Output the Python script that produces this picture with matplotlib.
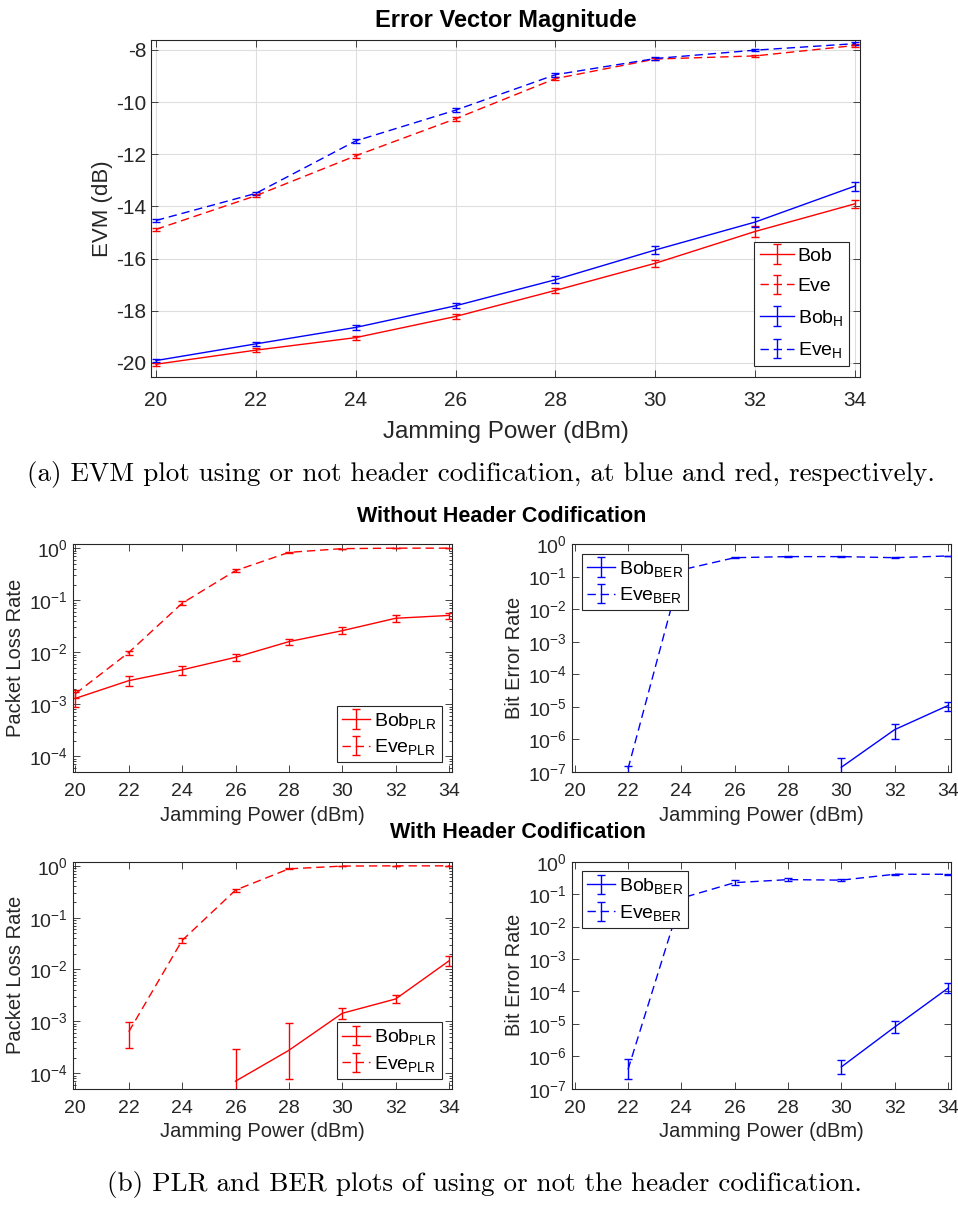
import numpy as np
import matplotlib
matplotlib.use("Agg")
import matplotlib.pyplot as plt

plt.rcParams['font.family'] = ['Liberation Sans', 'DejaVu Sans']
plt.rcParams['mathtext.default'] = 'regular'
plt.rcParams['axes.unicode_minus'] = False

nan = np.nan
x = [20, 22, 24, 26, 28, 30, 32, 34]

# ---- EVM (dB) ----
evm_bob = [-20.05, -19.51, -19.03, -18.22, -17.22, -16.18, -14.96, -13.90]
evm_bob_err = [0.06, 0.07, 0.08, 0.10, 0.11, 0.13, 0.20, 0.16]
evm_eve = [-14.88, -13.59, -12.06, -10.64, -9.10, -8.35, -8.23, -7.83]
evm_eve_err = [0.06, 0.06, 0.07, 0.08, 0.07, 0.04, 0.04, 0.04]
evm_bobh = [-19.91, -19.27, -18.64, -17.81, -16.81, -15.67, -14.60, -13.22]
evm_bobh_err = [0.06, 0.07, 0.08, 0.10, 0.13, 0.15, 0.19, 0.17]
evm_eveh = [-14.54, -13.50, -11.49, -10.31, -8.95, -8.33, -8.01, -7.76]
evm_eveh_err = [0.06, 0.06, 0.07, 0.08, 0.08, 0.04, 0.04, 0.05]

# ---- PLR without header ----
plr_bob = [1.3e-3, 2.85e-3, 4.6e-3, 8.0e-3, 0.016, 0.026, 0.045, 0.051]
plr_bob_err = [0.4e-3, 0.6e-3, 0.9e-3, 1.2e-3, 2.3e-3, 4e-3, 6e-3, 7e-3]
plr_eve = [1.6e-3, 9.9e-3, 0.0875, 0.37, 0.83, 0.98, 1.0, 1.0]
plr_eve_err = [0.3e-3, 0.9e-3, 8e-3, 0.02, 0.02, 0.005, 0.003, 0.003]

# ---- BER without header ----
ber_bob = [nan, nan, nan, nan, nan, 1.4e-7, 2.0e-6, 1.1e-5]
ber_bob_err = [nan, nan, nan, nan, nan, 1.3e-7, 1.0e-6, 0.35e-5]
ber_eve = [nan, 1.25e-7, 0.16, 0.38, 0.41, 0.41, 0.38, 0.43]
ber_eve_err = [nan, 0.3e-7, 0.06, 0.01, 0.01, 0.01, 0.01, 0.01]

# ---- PLR with header ----
plrh_bob = [nan, nan, nan, 7.0e-5, 2.76e-4, 1.43e-3, 2.7e-3, 0.0147]
plrh_bob_lo = [nan, nan, nan, 6.99e-5, 1.98e-4, 0.33e-3, 0.46e-3, 0.0029]
plrh_bob_hi = [nan, nan, nan, 2.2e-4, 6.5e-4, 0.35e-3, 0.5e-3, 0.0033]
plrh_eve = [nan, 6.3e-4, 0.0364, 0.34, 0.875, 0.99, 1.0, 1.0]
plrh_eve_err = [nan, 3.3e-4, 0.004, 0.025, 0.02, 0.005, 0.003, 0.003]

# ---- BER with header ----
berh_bob = [nan, nan, nan, nan, nan, 4.7e-7, 8.0e-6, 1.26e-4]
berh_bob_lo = [nan, nan, nan, nan, nan, 1.9e-7, 2.7e-6, 3.7e-5]
berh_bob_hi = [nan, nan, nan, nan, nan, 2.9e-7, 4.0e-6, 5.4e-5]
berh_eve = [nan, 3.9e-7, 0.075, 0.226, 0.28, 0.27, 0.41, 0.41]
berh_eve_lo = [nan, 1.9e-7, 0.041, 0.04, 0.03, 0.02, 0.01, 0.01]
berh_eve_hi = [nan, 4.1e-7, 0.051, 0.05, 0.03, 0.02, 0.01, 0.01]

xticks = [20, 22, 24, 26, 28, 30, 32, 34]
evm_yticks = [-20, -18, -16, -14, -12, -10, -8]

W, H = 958, 1207
fig = plt.figure(figsize=(W / 100, H / 100), dpi=100)

def pos(l, r, t, b):
    return [l / W, 1 - b / H, (r - l) / W, (b - t) / H]

AX_COL = '0.15'
DASH = (6, 3.5)

def style(ax, fs):
    for s in ax.spines.values():
        s.set_color(AX_COL)
        s.set_linewidth(0.8)
    ax.tick_params(which='both', direction='in', top=True, right=True,
                   colors=AX_COL, labelsize=fs, width=0.6)
    ax.tick_params(which='major', length=5)
    ax.tick_params(which='minor', length=2.5)
    ax.tick_params(axis='x', which='minor', bottom=False, top=False)

def eb(ax, y, err, color, dashed, label):
    c = ax.errorbar(x, y, yerr=err, color=color, lw=1.0, elinewidth=1.0,
                    capsize=3, capthick=1.0, label=label)
    if dashed:
        c.lines[0].set_dashes(DASH)
    return c

# ================= Top: EVM =================
ax = fig.add_axes(pos(151, 860, 40, 377))
eb(ax, evm_bob, evm_bob_err, 'red', False, 'Bob')
eb(ax, evm_eve, evm_eve_err, 'red', True, 'Eve')
eb(ax, evm_bobh, evm_bobh_err, 'blue', False, 'Bob$_H$')
eb(ax, evm_eveh, evm_eveh_err, 'blue', True, 'Eve$_H$')
ax.set_xlim(19.9, 34.1)
ax.set_ylim(-20.54, -7.62)
ax.set_xticks(xticks)
ax.set_yticks(evm_yticks)
ax.grid(True, color='0.87', lw=0.8)
ax.set_axisbelow(True)
style(ax, 15)
ax.tick_params(axis='x', pad=10)
ax.set_title('Error Vector Magnitude', fontsize=17, fontweight='bold', pad=9)
ax.set_xlabel('Jamming Power (dBm)', fontsize=17.5, color=AX_COL, labelpad=8)
ax.set_ylabel('EVM (dB)', fontsize=16, color=AX_COL, labelpad=2)
leg = ax.legend(loc='lower right', fontsize=14, frameon=True, fancybox=False,
                edgecolor=AX_COL, framealpha=1, handlelength=1.75,
                borderaxespad=0.55, labelspacing=0.65, handletextpad=0.2,
                borderpad=0.3)
leg.get_frame().set_linewidth(0.8)

# ================= Lower panels =================
def log_panel(rect, ylim, yticks, ylabel):
    a = fig.add_axes(rect)
    a.set_yscale('log')
    a.set_xlim(19.9, 34.1)
    a.set_ylim(*ylim)
    a.set_xticks(xticks)
    a.set_yticks(yticks)
    style(a, 14)
    a.tick_params(axis='x', pad=8)
    a.set_xlabel('Jamming Power (dBm)', fontsize=14.5, color=AX_COL, labelpad=4)
    a.set_ylabel(ylabel, fontsize=14.5, color=AX_COL, labelpad=3)
    return a

def leg_small(a, loc):
    l = a.legend(loc=loc, fontsize=14, frameon=True, fancybox=False,
                 edgecolor=AX_COL, framealpha=1, handlelength=1.45,
                 borderaxespad=0.5, labelspacing=0.35, handletextpad=0.2,
                 borderpad=0.25)
    l.get_frame().set_linewidth(0.8)

plr_ylim = (10 ** -4.3, 10 ** 0.08)
plr_yticks = [1e-4, 1e-3, 1e-2, 1e-1, 1e0]
ber_ylim = (1e-7, 1.0)
ber_yticks = [1e-7, 1e-6, 1e-5, 1e-4, 1e-3, 1e-2, 1e-1, 1e0]

# Row 1 left: PLR without header
a1 = log_panel(pos(72.7, 451.7, 544, 772), plr_ylim, plr_yticks, 'Packet Loss Rate')
eb(a1, plr_bob, plr_bob_err, 'red', False, 'Bob$_{PLR}$')
eb(a1, plr_eve, plr_eve_err, 'red', True, 'Eve$_{PLR}$')
leg_small(a1, 'lower right')

# Row 1 right: BER without header
a2 = log_panel(pos(572, 950.7, 544, 772), ber_ylim, ber_yticks, 'Bit Error Rate')
eb(a2, ber_bob, ber_bob_err, 'blue', False, 'Bob$_{BER}$')
eb(a2, ber_eve, ber_eve_err, 'blue', True, 'Eve$_{BER}$')
leg_small(a2, 'upper left')

# Row 2 left: PLR with header
a3 = log_panel(pos(72.7, 451.7, 861.7, 1088.7), plr_ylim, plr_yticks, 'Packet Loss Rate')
eb(a3, plrh_bob, [plrh_bob_lo, plrh_bob_hi], 'red', False, 'Bob$_{PLR}$')
eb(a3, plrh_eve, plrh_eve_err, 'red', True, 'Eve$_{PLR}$')
leg_small(a3, 'lower right')

# Row 2 right: BER with header
a4 = log_panel(pos(572, 950.7, 861.7, 1088.7), ber_ylim, ber_yticks, 'Bit Error Rate')
eb(a4, berh_bob, [berh_bob_lo, berh_bob_hi], 'blue', False, 'Bob$_{BER}$')
eb(a4, berh_eve, [berh_eve_lo, berh_eve_hi], 'blue', True, 'Eve$_{BER}$')
leg_small(a4, 'upper left')

# Section titles
fig.text(502 / W, 1 - 517 / H, 'Without Header Codification', ha='center', va='center',
         fontsize=15.5, fontweight='bold')
fig.text(518 / W, 1 - 832 / H, 'With Header Codification', ha='center', va='center',
         fontsize=15.5, fontweight='bold')

# Captions
fig.text(481 / W, 1 - 475 / H,
         '(a) EVM plot using or not header codification, at blue and red, respectively.',
         ha='center', va='center', fontsize=19.5, family='cmr10')
fig.text(484 / W, 1 - 1185 / H,
         '(b) PLR and BER plots of using or not the header codification.',
         ha='center', va='center', fontsize=19.5, family='cmr10')

fig.savefig('out.png', dpi=100)
